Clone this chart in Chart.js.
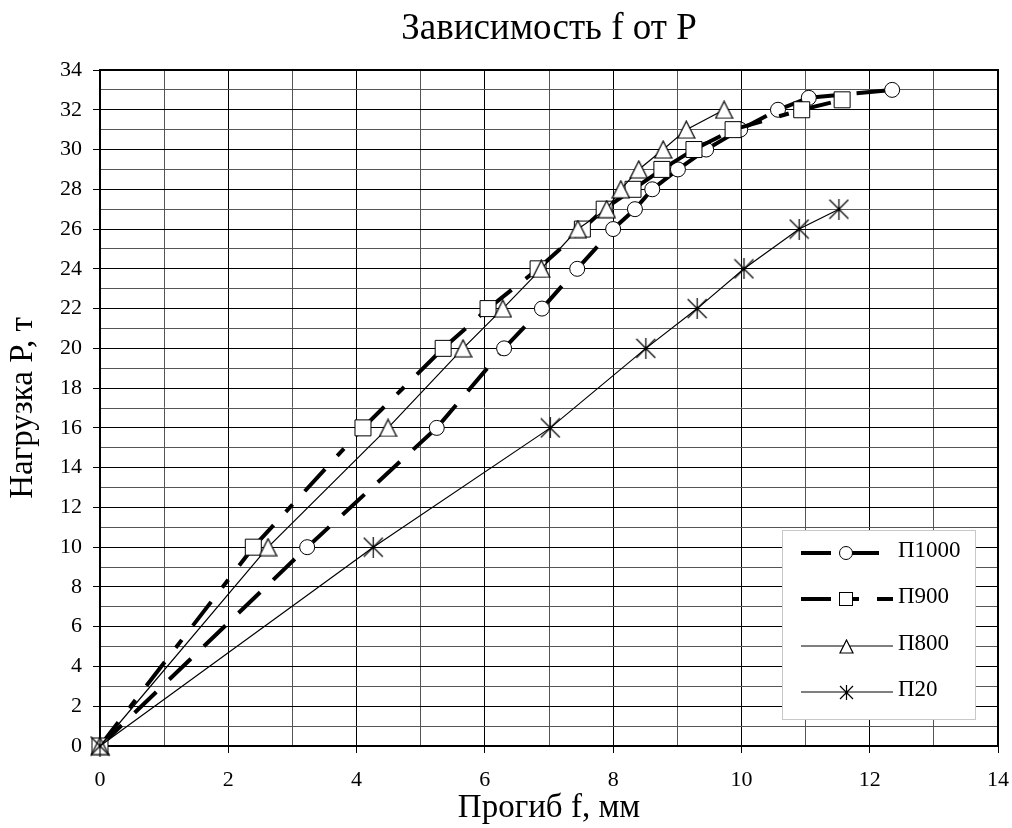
<!DOCTYPE html>
<html>
<head>
<meta charset="utf-8">
<title>Зависимость f от P</title>
<script src="https://cdn.jsdelivr.net/npm/chart.js@4.4.0/dist/chart.umd.min.js"></script>
<style>
    html, body { margin: 0; padding: 0; background: #fff; }
    #chart { display: block; }
</style>
</head>
<body>
<canvas id="chart" width="1012" height="828"></canvas>
<script>
// load P, t  /  deflection f, mm
const loadP1000 = [0, 10, 16, 20, 22, 24, 26, 27, 28, 29, 30, 31, 32, 32.6, 33];
const deflP1000 = [0, 3.23, 5.25, 6.30, 6.89, 7.44, 8.00, 8.34, 8.61, 9.01, 9.45, 9.98, 10.57, 11.05, 12.35];

const loadP900 = [0, 10, 16, 20, 22, 24, 26, 27, 28, 29, 30, 31, 32, 32.5];
const deflP900 = [0, 2.39, 4.10, 5.35, 6.05, 6.83, 7.52, 7.86, 8.31, 8.76, 9.26, 9.87, 10.94, 11.57];

const loadP800 = [0, 10, 16, 20, 22, 24, 26, 27, 28, 29, 30, 31, 32];
const deflP800 = [0, 2.62, 4.49, 5.66, 6.28, 6.88, 7.45, 7.90, 8.12, 8.40, 8.78, 9.14, 9.73];

const loadP20 = [0, 10, 16, 20, 22, 24, 26, 27];
const deflP20 = [0, 4.26, 7.02, 8.51, 9.31, 10.04, 10.90, 11.52];

const seriesNames = ['П1000', 'П900', 'П800', 'П20'];

const FONT = "'Liberation Serif', 'Times New Roman', serif";

function toPoints(xs, ys) {
    return xs.map((x, i) => ({ x: x, y: ys[i] }));
}

// Excel-like triangle and asterisk markers
function makeTriangle(size) {
    const c = document.createElement('canvas');
    c.width = size; c.height = size;
    const g = c.getContext('2d');
    g.beginPath();
    g.moveTo(size / 2, 1);
    g.lineTo(size - 1, size - 1);
    g.lineTo(1, size - 1);
    g.closePath();
    g.fillStyle = '#fff';
    g.fill();
    g.strokeStyle = '#000';
    g.lineWidth = 1.2;
    g.stroke();
    return c;
}

function makeStar(size) {
    const c = document.createElement('canvas');
    c.width = size; c.height = size;
    const g = c.getContext('2d');
    const m = size / 2;
    g.strokeStyle = '#000';
    g.lineWidth = 1.2;
    g.beginPath();
    g.moveTo(m, 0); g.lineTo(m, size);
    g.moveTo(1, 1); g.lineTo(size - 1, size - 1);
    g.moveTo(size - 1, 1); g.lineTo(1, size - 1);
    g.stroke();
    g.fillStyle = '#000';
    g.fillRect(m - 1.5, m - 1.5, 3, 3);
    return c;
}

const triMarker = makeTriangle(19);
const starMarker = makeStar(21);
const triLegend = makeTriangle(15);
const starLegend = makeStar(15);

// restart the dash pattern on every segment, like the original
const restartDash = {
    borderDashOffset: ctx => (ctx.p0DataIndex % 2) * 0.01
};

const framePlugin = {
    id: 'frame',
    beforeDatasetsDraw(chart) {
        const { ctx, chartArea: a } = chart;
        ctx.save();
        ctx.strokeStyle = '#000';
        ctx.lineWidth = 2;
        ctx.strokeRect(a.left, a.top, a.right - a.left, a.bottom - a.top);
        ctx.restore();
    }
};

function drawLegendMarker(ctx, ds, i, x, y) {
    ctx.fillStyle = '#fff';
    ctx.strokeStyle = '#000';
    ctx.lineWidth = 1;
    if (i === 0) {
        ctx.beginPath();
        ctx.arc(x, y, 6.5, 0, Math.PI * 2);
        ctx.fill();
        ctx.stroke();
    } else if (i === 1) {
        ctx.fillRect(x - 6.5, y - 6.5, 13, 13);
        ctx.strokeRect(x - 6.5, y - 6.5, 13, 13);
    } else {
        const img = i === 2 ? triLegend : starLegend;
        ctx.drawImage(img, Math.round(x - img.width / 2), Math.round(y - img.height / 2));
    }
}

const legendPlugin = {
    id: 'boxLegend',
    afterDraw(chart) {
        const { ctx, chartArea: a } = chart;
        const x0 = a.right - 216, y0 = a.bottom - 216;
        ctx.save();
        ctx.fillStyle = '#fff';
        ctx.fillRect(x0, y0, 193, 189);
        ctx.strokeStyle = '#c8c8c8';
        ctx.lineWidth = 1;
        ctx.strokeRect(x0 + 0.5, y0 + 0.5, 193, 189);

        chart.data.datasets.forEach((ds, i) => {
            const y = Math.round(y0 + 23 + i * 46.3);
            ctx.strokeStyle = '#000';
            ctx.lineWidth = ds.borderWidth;
            ctx.lineCap = 'butt';
            ctx.setLineDash(ds.borderDash || []);
            ctx.beginPath();
            ctx.moveTo(x0 + 19, y);
            ctx.lineTo(x0 + 111, y);
            ctx.stroke();
            ctx.setLineDash([]);
            drawLegendMarker(ctx, ds, i, x0 + 64, y);

            ctx.fillStyle = '#000';
            ctx.font = '23px ' + FONT;
            ctx.textAlign = 'left';
            ctx.textBaseline = 'middle';
            ctx.fillText(ds.label, x0 + 116, y - 2);
        });
        ctx.restore();
    }
};

const gridColor = ctx => (ctx.tick && ctx.tick.value % 2 === 0) ? '#000' : '#555';
const tickMarkColor = ctx => (ctx.tick && ctx.tick.value % 2 === 0) ? '#000' : 'rgba(0,0,0,0)';
const evenLabel = v => (v % 2 === 0 ? String(v) : '');

new Chart(document.getElementById('chart').getContext('2d'), {
    type: 'line',
    data: {
        datasets: [{
            label: seriesNames[0],
            data: toPoints(deflP1000, loadP1000),
            order: 3,
            borderColor: '#000',
            borderWidth: 4,
            borderDash: [30, 18],
            segment: restartDash,
            pointStyle: 'circle',
            pointRadius: 7.5,
            pointBackgroundColor: '#fff',
            pointBorderColor: '#000',
            pointBorderWidth: 1
        }, {
            label: seriesNames[1],
            data: toPoints(deflP900, loadP900),
            order: 2,
            borderColor: '#000',
            borderWidth: 4,
            borderDash: [30, 18, 10, 18],
            segment: restartDash,
            pointStyle: 'rect',
            pointRadius: 11.3,
            pointBackgroundColor: '#fff',
            pointBorderColor: '#000',
            pointBorderWidth: 1
        }, {
            label: seriesNames[2],
            data: toPoints(deflP800, loadP800),
            order: 1,
            borderColor: '#000',
            borderWidth: 1.2,
            pointStyle: triMarker,
            pointRadius: 9
        }, {
            label: seriesNames[3],
            data: toPoints(deflP20, loadP20),
            order: 0,
            borderColor: '#000',
            borderWidth: 1.2,
            pointStyle: starMarker,
            pointRadius: 10
        }]
    },
    options: {
        responsive: false,
        animation: false,
        devicePixelRatio: 1,
        events: [],
        elements: { line: { tension: 0, borderCapStyle: 'butt' } },
        datasets: { line: { clip: false } },
        layout: { padding: { left: 0, right: 14, top: 0, bottom: 0 } },
        plugins: {
            legend: { display: false },
            tooltip: { enabled: false },
            title: {
                display: true,
                text: 'Зависимость f от P',
                fullSize: false,
                color: '#000',
                font: { family: FONT, size: 37, weight: 'normal' },
                padding: { top: 7, bottom: 18.6 }
            }
        },
        scales: {
            x: {
                type: 'linear',
                min: 0,
                max: 14,
                ticks: {
                    stepSize: 1,
                    autoSkip: false,
                    maxRotation: 0,
                    callback: evenLabel,
                    color: '#000',
                    padding: 14,
                    font: { family: FONT, size: 22 }
                },
                grid: { color: gridColor, tickColor: tickMarkColor, tickLength: 7, lineWidth: 1 },
                border: { color: '#000', width: 2 },
                title: {
                    display: true,
                    text: 'Прогиб f, мм',
                    color: '#000',
                    font: { family: FONT, size: 33 },
                    padding: { top: 0, bottom: 0 }
                },
                afterFit: scale => {
                    scale.height = 82;
                    scale.paddingLeft = 0;
                    scale.paddingRight = 0;
                }
            },
            y: {
                type: 'linear',
                min: 0,
                max: 34,
                ticks: {
                    stepSize: 1,
                    autoSkip: false,
                    callback: evenLabel,
                    color: '#000',
                    padding: 11,
                    font: { family: FONT, size: 22 }
                },
                grid: { color: gridColor, tickColor: tickMarkColor, tickLength: 7, lineWidth: 1 },
                border: { color: '#000', width: 2 },
                title: {
                    display: true,
                    text: 'Нагрузка P, т',
                    color: '#000',
                    font: { family: FONT, size: 33 },
                    padding: { top: 4, bottom: 0 }
                },
                afterFit: scale => { scale.width = 100; }
            }
        }
    },
    plugins: [framePlugin, legendPlugin]
});
</script>
</body>
</html>
